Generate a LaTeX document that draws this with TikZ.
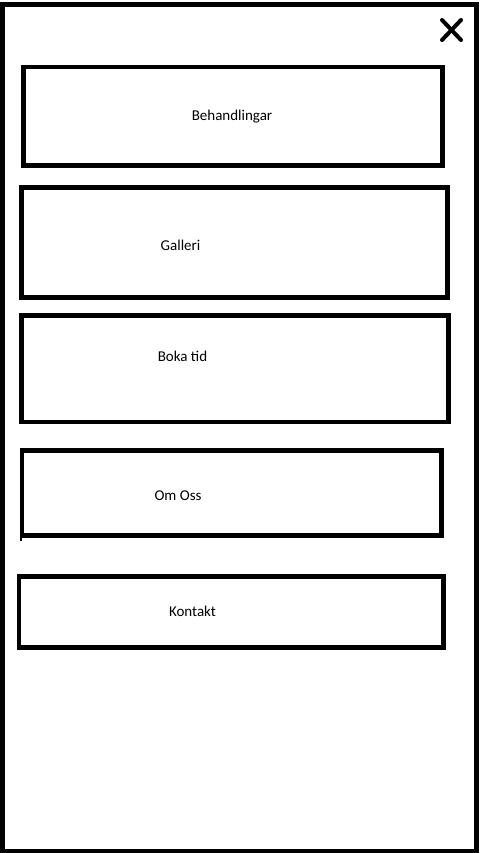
\documentclass[tikz,border=0pt]{standalone}
\usepackage{fontspec}
\setmainfont{Carlito}
\begin{document}
\begin{tikzpicture}[x=1pt,y=-1pt,line join=miter,
  menubox/.style={line width=4.7pt},
  menutext/.style={anchor=base,inner sep=0pt,font=\fontsize{15}{18}\selectfont}]
\useasboundingbox (0,0) rectangle (480,853);
\draw[line width=4.7pt](2.3,4.7) rectangle (476.8,851.5);
\draw[line width=4pt,line cap=round](442,20)--(461,40);
\draw[line width=4pt,line cap=round](461,20)--(442,40);
\draw[menubox](23.3,67) rectangle (442.3,165.7);
\draw[menubox](21.5,187.3) rectangle (447.2,297.3);
\draw[menubox](21.5,315.7) rectangle (448.3,422);
\draw[menubox](22,450.3) rectangle (441.3,535.3);
\draw[line width=2pt](21,535)--(21,540.5);
\draw[menubox](19,576.7) rectangle (443.3,647.3);
\node[menutext] (behandlingar) at (232,121) {Behandlingar};
\node[menutext] (galleri) at (180.5,250) {Galleri};
\node[menutext] (bokatid) at (182.5,361.5) {Boka tid};
\node[menutext] (omoss) at (178,500.5) {Om Oss};
\node[menutext] (kontakt) at (192.5,616) {Kontakt};
\end{tikzpicture}
\end{document}
